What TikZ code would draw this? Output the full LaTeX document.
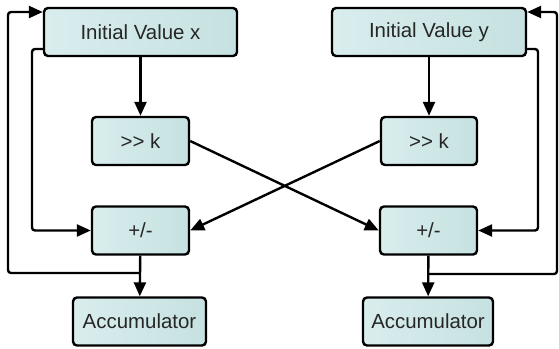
\documentclass[tikz,border=0pt]{standalone}
\usepackage{fontspec}
\setmainfont{Liberation Sans}
\usetikzlibrary{arrows.meta}

\definecolor{boxlight}{HTML}{D9EDED}
\definecolor{boxdark}{HTML}{C6E1E1}

\begin{document}
\begin{tikzpicture}[x=1bp,y=-1bp,
    block/.style={draw,line width=2.4bp,rounded corners=4bp,
      left color=boxlight,right color=boxdark,
      inner sep=0pt,minimum height=48bp,text=black!85,
      font=\fontsize{20.5}{24}\selectfont},
    wire/.style={line width=2.4bp,rounded corners=3bp},
    arr/.style={wire,-{Triangle[length=14bp,width=12bp]}}]
  \useasboundingbox (0,0) rectangle (559,348);

  % left column
  \node[block,minimum width=193bp] (InitX) at (140.5,32) {Initial Value x};
  \node[block,minimum width=97bp]  (ShiftX) at (140.5,141) {{>}{>} k};
  \node[block,minimum width=97bp]  (AddX) at (140.5,230.5) {+/-};
  \node[block,minimum width=133bp] (AccX) at (139.5,321.5) {Accumulator};

  % right column
  \node[block,minimum width=194bp] (InitY) at (429,32) {Initial Value y};
  \node[block,minimum width=96bp]  (ShiftY) at (429,141) {{>}{>} k};
  \node[block,minimum width=97bp]  (AddY) at (428.5,230.5) {+/-};
  \node[block,minimum width=130bp] (AccY) at (428,321.5) {Accumulator};

  \coordinate (JX) at (140.5,273);
  \coordinate (JY) at (429,274);

  % straight down
  \draw[arr] (InitX) -- (ShiftX);
  \draw[arr] (InitY) -- (ShiftY);
  \draw[arr] (AddX) -- (AccX);
  \draw[arr] (AddY) -- (AccY);

  % crossing
  \draw[arr] (ShiftX.east) -- (AddY.west);
  \draw[arr] (ShiftY.west) -- (AddX.east);

  % inner loops
  \draw[arr] (InitX.west |- 0,49) -- (32,49) -- (32,230.5) -- (AddX.west);
  \draw[arr] (InitY.east |- 0,49) -- (538,49) -- (538,230.5) -- (AddY.east);

  % outer feedback
  \draw[arr] (JX) -- (8,273) -- (8,12) -- (InitX.west |- 0,12);
  \draw[arr] (JY) -- (557,274) -- (557,12) -- (InitY.east |- 0,12);
\end{tikzpicture}
\end{document}
